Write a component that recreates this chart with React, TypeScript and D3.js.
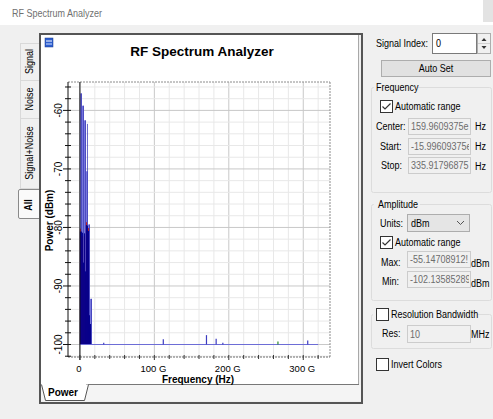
import React from 'react';
import * as d3 from 'd3';

const W = 493;
const H = 419;

// ---------- data ----------
const freqDomain = [-15.99609375, 335.91796875]; // GHz
const powerDomain = [-102.13585289, -55.14708912]; // dBm
const xMajorTicks = [0, 100, 200, 300];
const xTickLabels = ['0', '100 G', '200 G', '300 G'];
const xMinorStep = 20;
const yMajorTicks = [-100, -90, -80, -70, -60];
const yMinorStep = 2;

// light-blue "Signal" bars (GHz, dBm)
const signalFreqs = [0, 2.7, 5.4, 8.1, 10.8, 13.5];
const signalPower = [-57.1, -59.2, -61.7, -70.4, -79.5, -92.2];
const signalEdgePower = [-57.1, -59.2, -61.7, -62.3, -79.5, -92.2];
// dark "Signal+Noise" bars
const comboFreqs = [0, 1.35, 2.7, 4.05, 5.4, 6.75, 8.1, 9.45, 10.8, 12.15, 13.5];
const comboPower = [-80.7, -80.7, -80.9, -86.0, -81.0, -87.5, -79.6, -79.7, -80.6, -95.0, -96.5];
// red "Noise" bars
const noisePower = [-80.2, -81.5, -81.5, -87.0, -81.5, -88.0, -79.1, -80.5, -80.1, -96.0, -97.0];
const comboStep = 1.35;
const signalStep = 2.7;
// noise floor
const floorLevel = -100;
const floorEnd = 320;
// small spikes on the floor
const spikeFreqs = [32, 112, 170, 183, 192, 266, 306];
const spikePower = [-99.7, -99.1, -98.4, -99.0, -99.7, -99.5, -99.3];
const spikeSeries = ['s', 's', 's', 's', 's', 'n', 's'];

const tabNames = ['Signal', 'Noise', 'Signal+Noise'];

// ---------- layout ----------
const PX0 = 68, PX1 = 330, PY0 = 82, PY1 = 357;
const x = d3.scaleLinear().domain(freqDomain).range([PX0, PX1]);
const y = d3.scaleLinear().domain(powerDomain).range([PY1, PY0]);

const UI = "'Liberation Sans', Arial, sans-serif";
const CH = "'Liberation Sans', Arial, sans-serif";
const SX = 0.82; // narrow UI font

const COL_SIG = '#7a7ade';
const COL_SIG_EDGE = '#3a3ab8';
const COL_COMBO = '#00008f';
const COL_NOISE = '#c02020';
const COL_FLOOR = '#6d6dd6';

function CheckBox({ x0, y0, checked }: { x0: number; y0: number; checked: boolean }) {
  return (
    <g>
      <rect x={x0 + 0.5} y={y0 + 0.5} width={12} height={12} fill="#fff" stroke="#333" />
      {checked && (
        <path d={`M${x0 + 2.5},${y0 + 6.5} L${x0 + 5},${y0 + 9} L${x0 + 10.5},${y0 + 3.5}`} fill="none" stroke="#333" strokeWidth={1.2} />
      )}
    </g>
  );
}

function UText({ x0, y0, text, anchor = 'start', bold = false, color = '#000', rot = 0, size = 11 }: any) {
  return (
    <text
      transform={`translate(${x0},${y0}) rotate(${rot}) scale(${SX},1)`}
      dominantBaseline="central"
      textAnchor={anchor}
      fontFamily={UI}
      fontSize={size}
      fontWeight={bold ? 'bold' : 'normal'}
      fill={color}
    >
      {text}
    </text>
  );
}

function ReadBox({ x0, y0, w, h, text }: { x0: number; y0: number; w: number; h: number; text: string }) {
  const id = `clip-${x0}-${y0}`;
  return (
    <g>
      <clipPath id={id}>
        <rect x={x0 + 1} y={y0 + 1} width={w - 2} height={h - 2} />
      </clipPath>
      <rect x={x0 + 0.5} y={y0 + 0.5} width={w} height={h} fill="#f0f0f0" stroke="#cccccc" />
      <g clipPath={`url(#${id})`}>
        <UText x0={x0 + 3} y0={y0 + h / 2 + 0.5} text={text} color="#6d6d6d" />
      </g>
    </g>
  );
}

function GroupBox({ x0, y0, x1, y1, labelStart, labelEnd }: any) {
  return (
    <g>
      <rect x={x0 + 0.5} y={y0 + 0.5} width={x1 - x0} height={y1 - y0} fill="none" stroke="#dcdcdc" rx={2} />
      <rect x={labelStart} y={y0 - 3} width={labelEnd - labelStart} height={7} fill="#f0f0f0" />
    </g>
  );
}

export default function App() {
  const xMinor = d3.range(0, 321, xMinorStep);
  const yMinor = d3.range(-102, -55, yMinorStep);
  const sw = x(signalStep) - x(0);
  const cw = x(comboStep) - x(0);

  return (
    <svg width={W} height={H} style={{ position: 'absolute', left: 0, top: 0 }} xmlns="http://www.w3.org/2000/svg">
      {/* window background */}
      <rect x={0} y={0} width={W} height={H} fill="#f0f0f0" />
      <rect x={0} y={0} width={W} height={25} fill="#ffffff" />
      <rect x={483} y={0} width={10} height={22} fill="#e3e3e3" />
      <UText x0={12} y0={13} text="RF Spectrum Analyzer" color="#707070" />

      {/* left vertical tabs */}
      {[[43, 80], [80, 118], [118, 188]].map(([t, b], i) => (
        <g key={tabNames[i]}>
          <rect x={20.5} y={t + 0.5} width={19} height={b - t} fill="#f0f0f0" stroke="#d9d9d9" />
          <UText x0={29.5} y0={(t + b) / 2} rot={-90} anchor="middle" text={tabNames[i]} />
        </g>
      ))}
      <path d="M41,189.5 L20,189.5 Q18.5,189.5 18.5,191 L18.5,217 Q18.5,218.5 20,218.5 L41,218.5" fill="#fafafa" stroke="#8a8a8a" />
      <UText x0={28.5} y0={205} rot={-90} anchor="middle" text="All" bold={true} />

      {/* chart control frame */}
      <rect x={41} y={35} width={318} height={350} fill="#ffffff" />
      <rect x={41} y={385} width={320} height={16} fill="#f4f4f4" />
      <line x1={40} y1={33} x2={40} y2={404} stroke="#555" strokeWidth={2} />
      <line x1={39} y1={34} x2={363} y2={34} stroke="#555" strokeWidth={2} />
      <line x1={362} y1={33} x2={362} y2={404} stroke="#555" strokeWidth={2} />
      <line x1={39} y1={403} x2={363} y2={403} stroke="#555" strokeWidth={2} />
      <line x1={358.5} y1={35} x2={358.5} y2={385} stroke="#a8a8a8" />
      {/* bottom tab strip */}
      <line x1={86} y1={384.5} x2={359} y2={384.5} stroke="#777" />
      <path d="M41.5,384.5 L45.5,400.5 L84.5,400.5 L88.5,384.5" fill="#ffffff" stroke="#555" />
      <text x={48} y={392} dominantBaseline="central" fontFamily={CH} fontSize={10} fontWeight="bold">Power</text>

      {/* chart icon */}
      <rect x={45} y={38} width={8} height={9} fill="#2e5fd0" stroke="#1a3a8a" strokeWidth={0.5} />
      <line x1={46} y1={41} x2={52} y2={41} stroke="#fff" />
      <line x1={46} y1={44} x2={52} y2={44} stroke="#cfe0ff" />

      {/* title */}
      <text x={202} y={51} textAnchor="middle" dominantBaseline="central" fontFamily={CH} fontSize={13.5} fontWeight="bold">RF Spectrum Analyzer</text>

      {/* gridlines */}
      {xMinor.map((f) => (
        <line key={'gx' + f} x1={x(f)} x2={x(f)} y1={PY0} y2={PY1} stroke={f % 100 === 0 ? '#c8c8c8' : '#e8e8e8'} />
      ))}
      {yMinor.map((p) => (
        <line key={'gy' + p} x1={PX0} x2={PX1} y1={y(p)} y2={y(p)} stroke={p % 10 === 0 ? '#c8c8c8' : '#e8e8e8'} />
      ))}
      {/* dashed borders */}
      <line x1={PX0} x2={PX1} y1={PY0} y2={PY0} stroke="#8c8c8c" strokeDasharray="2,1" />
      <line x1={PX1} x2={PX1} y1={PY0} y2={PY1} stroke="#8c8c8c" strokeDasharray="2,1" />
      <line x1={PX0} x2={PX1} y1={PY1} y2={PY1} stroke="#6c6c6c" strokeDasharray="2,1" />

      {/* data: signal bars */}
      {signalFreqs.map((f, i) => (
        <rect key={'s' + i} x={x(f)} width={sw} y={y(signalPower[i])} height={y(floorLevel) - y(signalPower[i])} fill={COL_SIG} />
      ))}
      {signalFreqs.map((f, i) => (
        <line key={'se' + i} x1={x(f) + sw - 0.5} x2={x(f) + sw - 0.5} y1={y(signalEdgePower[i])} y2={y(floorLevel)} stroke={COL_SIG_EDGE} strokeWidth={0.8} />
      ))}
      {/* noise bars */}
      {comboFreqs.map((f, i) => (
        <rect key={'n' + i} x={x(f)} width={cw} y={y(noisePower[i])} height={y(floorLevel) - y(noisePower[i])} fill={COL_NOISE} />
      ))}
      {/* combined bars */}
      {comboFreqs.map((f, i) => (
        <rect key={'c' + i} x={x(f)} width={cw} y={y(comboPower[i])} height={y(floorLevel) - y(comboPower[i])} fill={COL_COMBO} />
      ))}
      {/* floor line */}
      <line x1={x(0)} x2={x(floorEnd)} y1={y(floorLevel)} y2={y(floorLevel)} stroke={COL_FLOOR} strokeWidth={1.2} />
      {spikeFreqs.map((f, i) => (
        <line key={'sp' + i} x1={x(f)} x2={x(f)} y1={y(floorLevel)} y2={y(spikePower[i])} stroke={spikeSeries[i] === 'n' ? '#2a8a2a' : '#3c3cc0'} strokeWidth={1.2} />
      ))}

      {/* zero line */}
      <line x1={x(0)} x2={x(0)} y1={PY0} y2={PY1 + 3} stroke="#111" />

      {/* y axis */}
      <line x1={PX0} x2={PX0} y1={PY0} y2={PY1} stroke="#111" />
      {yMinor.map((p) => (
        <line key={'ty' + p} x1={p % 10 === 0 ? PX0 - 5 : PX0 - 3} x2={PX0 + 3} y1={y(p)} y2={y(p)} stroke="#111" />
      ))}
      {yMajorTicks.map((p) => (
        <text key={'ly' + p} transform={`translate(${PX0 - 10},${y(p)}) rotate(-90)`} textAnchor="middle" dominantBaseline="central" fontFamily={CH} fontSize={10}>
          {p}
        </text>
      ))}
      <text transform={`translate(49,${(PY0 + PY1) / 2 + 1}) rotate(-90)`} textAnchor="middle" dominantBaseline="central" fontFamily={CH} fontSize={10} fontWeight="bold">Power (dBm)</text>

      {/* x axis ticks */}
      {xMinor.map((f) => (
        <line key={'tx' + f} x1={x(f)} x2={x(f)} y1={PY1 - 2} y2={PY1 + (f % 100 === 0 ? 3 : 2)} stroke="#333" />
      ))}
      {xMajorTicks.map((f, i) => (
        <text key={'lx' + f} x={x(f) - 1} y={PY1 + 11} textAnchor="middle" dominantBaseline="central" fontFamily={CH} fontSize={9.5}>
          {xTickLabels[i]}
        </text>
      ))}
      <text x={198} y={379} textAnchor="middle" dominantBaseline="central" fontFamily={CH} fontSize={10} fontWeight="bold">Frequency (Hz)</text>

      {/* ---------- right panel ---------- */}
      <UText x0={376} y0={43} text="Signal Index:" />
      <rect x={432.5} y={33.5} width={44} height={20} fill="#fff" stroke="#7a7a7a" />
      <UText x0={436} y0={43} text="0" />
      <rect x={477.5} y={33.5} width={13} height={20} fill="#f0f0f0" stroke="#adadad" />
      <line x1={478} x2={490} y1={43.5} y2={43.5} stroke="#d0d0d0" />
      <path d="M481.5,41 L484,38 L486.5,41 Z" fill="#333" />
      <path d="M481.5,46 L484,49 L486.5,46 Z" fill="#333" />

      <rect x={381.5} y={60.5} width={109} height={16} fill="#e1e1e1" stroke="#adadad" />
      <UText x0={436} y0={68.5} text="Auto Set" anchor="middle" />

      <GroupBox x0={371} y0={87} x1={491} y1={192} labelStart={374} labelEnd={418} />
      <UText x0={376} y0={87} text="Frequency" />
      <CheckBox x0={380} y0={100} checked={true} />
      <UText x0={395} y0={106.5} text="Automatic range" />
      <UText x0={376} y0={126} text="Center:" />
      <ReadBox x0={408} y0={118} w={62} h={16} text="159.9609375e" />
      <UText x0={475} y0={126.5} text="Hz" />
      <UText x0={380} y0={146} text="Start:" />
      <ReadBox x0={408} y0={138} w={62} h={16} text="-15.99609375e" />
      <UText x0={475} y0={146.5} text="Hz" />
      <UText x0={381} y0={165.5} text="Stop:" />
      <ReadBox x0={408} y0={157} w={62} h={16} text="335.91796875" />
      <UText x0={475} y0={166} text="Hz" />

      <GroupBox x0={371} y0={204} x1={491} y1={300} labelStart={374} labelEnd={420} />
      <UText x0={378} y0={204} text="Amplitude" />
      <UText x0={380} y0={223} text="Units:" />
      <rect x={407.5} y={214.5} width={62} height={17} fill="#e5e5e5" stroke="#adadad" />
      <UText x0={411} y0={223} text="dBm" />
      <path d="M457,221 L460.5,224.5 L464,221" fill="none" stroke="#555" />
      <CheckBox x0={380} y0={236} checked={true} />
      <UText x0={395} y0={242} text="Automatic range" />
      <UText x0={381} y0={262} text="Max:" />
      <ReadBox x0={407} y0={251} w={63} h={16} text="-55.14708912!" />
      <UText x0={471} y0={263.5} text="dBm" />
      <UText x0={382} y0={281} text="Min:" />
      <ReadBox x0={407} y0={271} w={63} h={16} text="-102.13585289" />
      <UText x0={471} y0={283} text="dBm" />

      <GroupBox x0={371} y0={314} x1={491} y1={348} labelStart={373} labelEnd={477} />
      <CheckBox x0={376} y0={308} checked={false} />
      <UText x0={391} y0={314} text="Resolution Bandwidth" />
      <UText x0={382} y0={333} text="Res:" />
      <ReadBox x0={407} y0={325} w={63} h={17} text="10" />
      <UText x0={471} y0={334} text="MHz" />

      <CheckBox x0={376} y0={358} checked={false} />
      <UText x0={391} y0={364} text="Invert Colors" />
    </svg>
  );
}
